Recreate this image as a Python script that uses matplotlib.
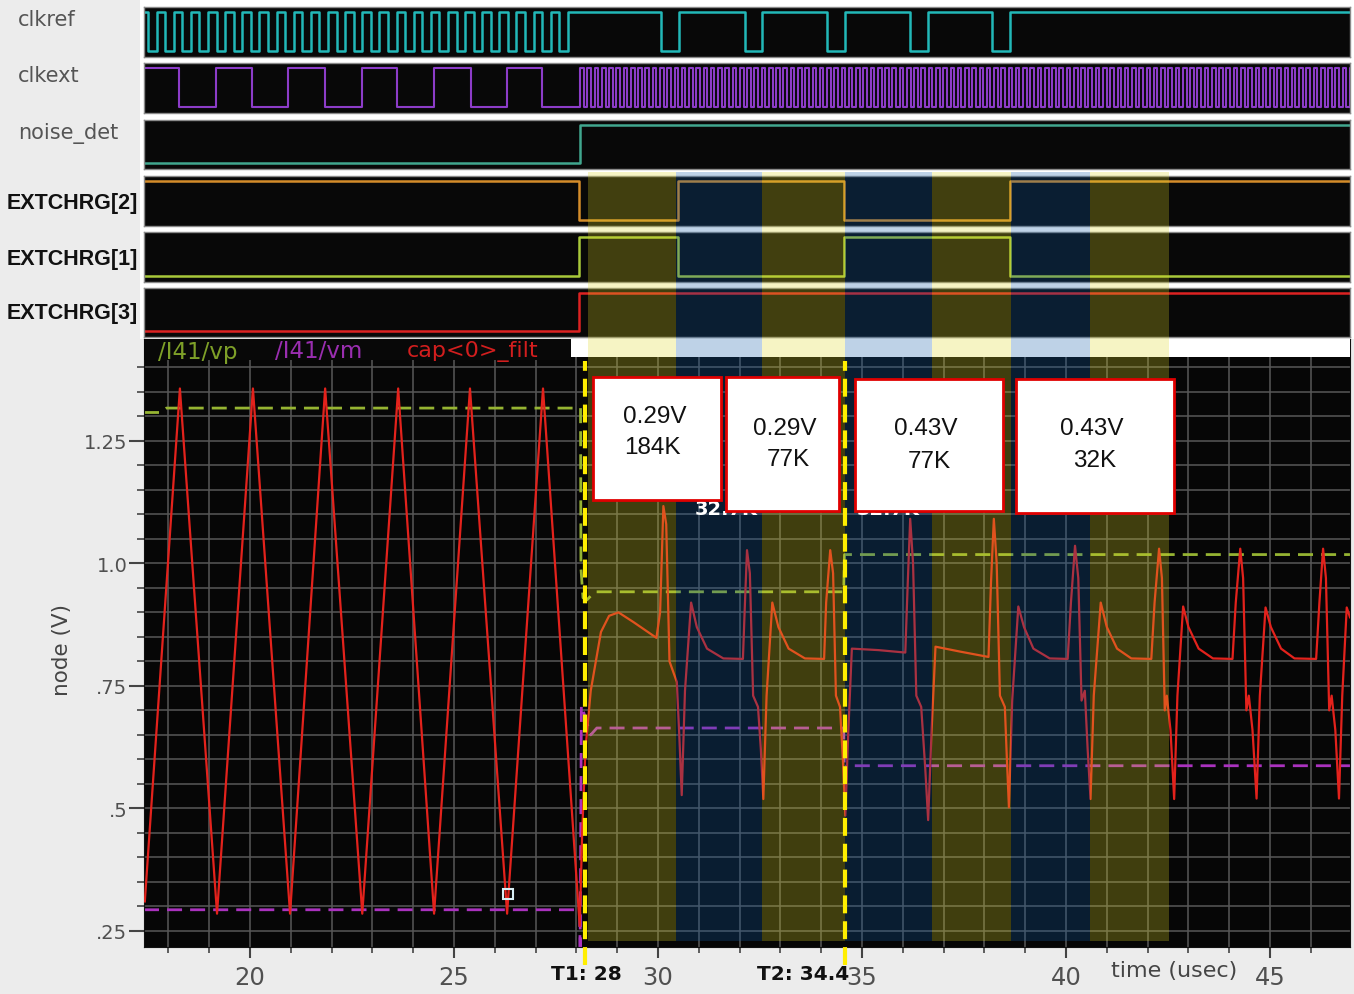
import matplotlib
matplotlib.use('Agg')
import matplotlib.pyplot as plt
import matplotlib.transforms as mtransforms
import numpy as np
from matplotlib.patches import Rectangle
from matplotlib.lines import Line2D
from matplotlib import font_manager

W, H = 1354, 995
T_START, T_END = 17.40, 46.96

# ---------------- digital traces (time in usec) ----------------
# clkref: fast clock until the switch, then slow clock with short low pulses
clkref_fast_start = 17.50
clkref_fast_period = 0.42
clkref_fast_count = 25
clkref_low_start = [30.07, 32.13, 34.14, 36.18, 38.19]
clkref_low_end = [30.52, 32.55, 34.58, 36.62, 38.63]

# clkext: slow square wave, then a dense clock after the switch
clkext_high_start = [17.40, 19.17, 20.93, 22.75, 24.51, 26.30]
clkext_high_end = [18.26, 20.05, 21.84, 23.60, 25.42, 27.16]
clkext_fast_start = 28.09
clkext_fast_period = 0.178

noise_det_edges = [28.09]
extchrg2_edges = [28.07, 30.49, 34.56, 38.63]
extchrg1_edges = [28.07, 30.49, 34.56, 38.63]
extchrg3_edges = [28.07]

# ---------------- analog traces (volts) ----------------
cap_t = [17.42, 18.28, 19.19, 20.07, 20.98, 21.84, 22.75, 23.63, 24.51, 25.39,
         26.30, 27.18, 28.08,
         28.14, 28.22, 28.35, 28.60, 28.80, 29.03, 29.40, 29.96, 30.05, 30.13,
         30.20, 30.28, 30.46, 30.52, 30.58, 30.66, 30.81, 30.95, 31.20, 31.60,
         32.08, 32.13, 32.18, 32.25, 32.33, 32.45, 32.52, 32.58, 32.66, 32.80,
         32.95, 33.20, 33.60, 34.07, 34.12, 34.22, 34.29, 34.36, 34.46, 34.53,
         34.59, 34.66, 34.75, 35.40, 36.06, 36.12, 36.18, 36.25, 36.33, 36.45,
         36.55, 36.62, 36.70, 36.80, 37.40, 38.10, 38.16, 38.23, 38.30, 38.38,
         38.50, 38.55, 38.60, 38.68, 38.83, 38.97, 39.20, 39.60, 40.04, 40.12,
         40.22, 40.30, 40.38, 40.46, 40.53, 40.60, 40.68, 40.85, 41.00, 41.25,
         41.60, 42.09, 42.17, 42.28, 42.35, 42.42, 42.47, 42.56, 42.65, 42.73,
         42.87, 43.00, 43.25, 43.60, 44.08, 44.16, 44.27, 44.34, 44.42, 44.48,
         44.57, 44.67, 44.75, 44.89, 45.02, 45.27, 45.60, 46.13, 46.21, 46.30,
         46.37, 46.45, 46.51, 46.60, 46.69, 46.77, 46.88, 46.96]
cap_v = [0.31, 1.357, 0.285, 1.357, 0.285, 1.357, 0.285, 1.357, 0.285, 1.357,
         0.285, 1.357, 0.26,
         0.45, 0.62, 0.74, 0.86, 0.893, 0.90, 0.88, 0.848, 0.90, 1.117,
         1.08, 0.80, 0.758, 0.65, 0.527, 0.74, 0.92, 0.87, 0.826, 0.806,
         0.805, 0.92, 1.027, 0.98, 0.73, 0.707, 0.62, 0.519, 0.73, 0.92,
         0.87, 0.826, 0.806, 0.805, 0.92, 1.027, 0.98, 0.73, 0.707, 0.60,
         0.485, 0.65, 0.826, 0.823, 0.818, 0.96, 1.091, 1.00, 0.73, 0.707,
         0.58, 0.476, 0.65, 0.83, 0.82, 0.809, 0.96, 1.091, 1.00, 0.73,
         0.707, 0.60, 0.502, 0.72, 0.912, 0.87, 0.826, 0.806, 0.805, 0.92,
         1.036, 0.97, 0.72, 0.74, 0.62, 0.519, 0.73, 0.92, 0.87, 0.826,
         0.806, 0.805, 0.92, 1.03, 0.97, 0.70, 0.73, 0.66, 0.519, 0.73,
         0.912, 0.87, 0.826, 0.806, 0.805, 0.92, 1.03, 0.97, 0.70, 0.73,
         0.66, 0.52, 0.73, 0.91, 0.87, 0.826, 0.806, 0.805, 0.92, 1.03,
         0.97, 0.70, 0.73, 0.66, 0.52, 0.73, 0.91, 0.89]

vp_t = [17.40, 17.80, 17.95, 28.10, 28.11, 28.16, 28.25, 28.45, 34.55, 34.57, 46.96]
vp_v = [1.308, 1.308, 1.317, 1.317, 0.99, 0.93, 0.925, 0.942, 0.942, 1.018, 1.018]

vm_t = [17.40, 28.08, 28.09, 28.12, 28.20, 28.35, 28.50, 34.55, 34.58, 34.62, 46.96]
vm_v = [0.293, 0.293, 0.20, 0.71, 0.69, 0.65, 0.664, 0.664, 0.52, 0.587, 0.587]

# highlighted EXTCHRG phases
yellow_start = [28.28, 32.55, 36.72, 40.59]
yellow_end = [30.44, 34.58, 38.65, 42.52]
blue_start = [30.44, 34.58, 38.65]
blue_end = [32.55, 36.72, 40.59]

cursor_t = [28.21, 34.58]
cursor_labels = ['T1: 28', 'T2: 34.4']

box_lines = [('0.29V', '184K'), ('0.29V', '77K'), ('0.43V', '77K'), ('0.43V', '32K')]


def edges_to_step(edges, level):
    t, v = [T_START], [level]
    for e in edges:
        t += [e, e]
        v += [level, 1 - level]
        level = 1 - level
    t.append(T_END)
    v.append(level)
    return t, v


def rect_px(x0, y0, x1, y1):
    return [x0 / W, 1 - y1 / H, (x1 - x0) / W, (y1 - y0) / H]


def fy(y):
    return 1 - y / H


fig = plt.figure(figsize=(W / 100, H / 100), dpi=100, facecolor='#ececec')
fig.add_artist(Rectangle((140 / W, fy(340)), (W - 140) / W, 340 / H, transform=fig.transFigure,
                         facecolor='white', edgecolor='none', zorder=-10))

# clock edge lists
clkref_edges = []
for k in range(clkref_fast_count):
    s = clkref_fast_start + k * clkref_fast_period
    clkref_edges += [s, s + clkref_fast_period / 2]
for a, b in zip(clkref_low_start, clkref_low_end):
    clkref_edges += [a, b]

clkext_edges = [clkext_high_end[0]]
for a, b in zip(clkext_high_start[1:], clkext_high_end[1:]):
    clkext_edges += [a, b]
s = clkext_fast_start
while s < T_END:
    clkext_edges += [s, s + clkext_fast_period / 2]
    s += clkext_fast_period

names = {f.name for f in font_manager.fontManager.ttflist}
if 'Liberation Sans Narrow' in names:
    ext_font = dict(family='Liberation Sans Narrow', fontsize=19, weight='bold')
else:
    ext_font = dict(family='Liberation Sans', fontsize=15.5, weight='bold')

rows = [
    ('clkref', 8, 58, clkref_edges, 1, '#22b8b8', 20),
    ('clkext', 64, 114, clkext_edges, 1, '#8c3cc8', 76),
    ('noise_det', 121, 170, noise_det_edges, 0, '#40a68e', 133),
    ('EXTCHRG[2]', 177, 227, extchrg2_edges, 1, '#d48c2a', 203),
    ('EXTCHRG[1]', 233, 283, extchrg1_edges, 0, '#a8c83a', 259),
    ('EXTCHRG[3]', 289, 338, extchrg3_edges, 0, '#dc2222', 314),
]
for name, y0, y1, edges, lvl, color, ylab in rows:
    ax = fig.add_axes(rect_px(144, y0, 1350, y1))
    ax.set_facecolor('#080808')
    t, v = edges_to_step(edges, lvl)
    ax.plot(t, v, color=color, lw=1.8 if name != 'clkext' else 1.5)
    ax.set_xlim(T_START, T_END)
    ax.set_ylim(-0.15, 1.13)
    ax.set_xticks([])
    ax.set_yticks([])
    for sp in ax.spines.values():
        sp.set_color('#8a8a8a')
        sp.set_linewidth(1)
    if name.startswith('EXTCHRG'):
        fig.text(7 / W, fy(ylab), name, color='#111111', va='center', ha='left', **ext_font)
    else:
        fig.text(18 / W, fy(ylab), name, fontsize=15, color='#555555', va='center', ha='left')

# ---------------- analog panel ----------------
ax = fig.add_axes(rect_px(144, 340, 1350, 948))
ax.set_facecolor('#060606')
ax.set_xlim(T_START, T_END)
ax.set_ylim(0.217, 1.458)
ax.plot(vp_t, vp_v, color='#96b432', lw=2, dashes=(5.4, 2.9), zorder=2)
ax.plot(vm_t, vm_v, color='#aa32be', lw=2, dashes=(5.4, 2.9), zorder=2)
ax.plot(cap_t, cap_v, color='#e3221c', lw=1.6, zorder=3)
ax.plot([26.32], [0.325], marker='s', ms=7, mfc='none', mec='#d8eef5', mew=1.5, zorder=4)

ax.set_yticks([0.25, 0.5, 0.75, 1.0, 1.25])
ax.set_yticklabels(['.25', '.5', '.75', '1.0', '1.25'])
ax.set_yticks(np.arange(0.25, 1.401, 0.05), minor=True)
ax.set_xticks([20, 25, 30, 35, 40, 45])
ax.set_xticks(np.arange(18, 47, 1), minor=True)
ax.grid(True, which='both', color='#575757', lw=1.1)
ax.tick_params(axis='y', which='major', length=11, width=1.5, color='#444444',
               labelsize=14, labelcolor='#505050', pad=1)
ax.tick_params(axis='y', which='minor', length=5, width=1.2, color='#444444')
ax.tick_params(axis='x', which='major', length=8, width=1.5, color='#444444',
               labelsize=17.5, labelcolor='#505050', pad=5)
ax.tick_params(axis='x', which='minor', length=4, width=1.2, color='#444444')
for sp in ax.spines.values():
    sp.set_color('#111111')

# legend strip on top of the analog panel
ax.add_patch(Rectangle((144 / W, fy(361)), (571 - 144) / W, 21 / H, transform=fig.transFigure,
                       facecolor='#080808', edgecolor='none', zorder=4, clip_on=False))
ax.add_patch(Rectangle((571 / W, fy(358)), (1350 - 571) / W, 18 / H, transform=fig.transFigure,
                       facecolor='white', edgecolor='none', zorder=4, clip_on=False))
fig.text(158 / W, fy(352), '/I41/vp', color='#7ea028', fontsize=16.5, va='center', zorder=6)
fig.text(275 / W, fy(352), '/I41/vm', color='#9a2eb0', fontsize=16.5, va='center', zorder=6)
fig.text(407 / W, fy(352), 'cap<0>_filt', color='#d21e1e', fontsize=16, va='center', zorder=6)

fig.text(62 / W, fy(650), 'node (V)', rotation=90, fontsize=15.5, color='#454545',
         ha='center', va='center')
fig.text(1174 / W, fy(971), 'time (usec)', fontsize=16, color='#454545', ha='center', va='center')

# phase shading across the EXTCHRG rows and the analog panel
blend = mtransforms.blended_transform_factory(ax.transData, fig.transFigure)
for a, b in zip(yellow_start, yellow_end):
    fig.add_artist(Rectangle((a, fy(942)), b - a, (942 - 173) / H, transform=blend,
                             facecolor='#ded725', alpha=0.27, edgecolor='none', zorder=5))
for a, b in zip(blue_start, blue_end):
    fig.add_artist(Rectangle((a, fy(942)), b - a, (942 - 173) / H, transform=blend,
                             facecolor='#125ca7', alpha=0.27, edgecolor='none', zorder=5))

# cursors
for tc in cursor_t:
    fig.add_artist(Line2D([tc, tc], [fy(966), fy(362)], transform=blend, color='#ffee00',
                          lw=3, dashes=(4.3, 1.9), zorder=6))
fig.text(586 / W, fy(975), cursor_labels[0], fontsize=14.5, weight='bold', color='#111111',
         ha='center', va='center', zorder=7)
fig.text(803 / W, fy(975), cursor_labels[1], fontsize=14.5, weight='bold', color='#111111',
         ha='center', va='center', zorder=7)

# partly hidden labels under the boxes
for x in [695, 857]:
    fig.text(x / W, fy(515), '32.7K', fontsize=14, weight='bold', color='white',
             ha='left', va='baseline', zorder=8)

# annotation boxes
boxes = [(593, 378, 721, 501), (726, 378, 839, 512), (855, 380, 1003, 512), (1016, 380, 1174, 514)]
text_pos = [((655, 417), (652, 448)), ((785, 429), (788, 460)),
            ((926, 429), (929, 462)), ((1092, 429), (1095, 461))]
for (x0, y0, x1, y1), (l1, l2), (p1, p2) in zip(boxes, box_lines, text_pos):
    fig.add_artist(Rectangle((x0 / W, fy(y1)), (x1 - x0) / W, (y1 - y0) / H,
                             transform=fig.transFigure, facecolor='white',
                             edgecolor='#e00000', lw=2, zorder=20))
    fig.text(p1[0] / W, fy(p1[1]), l1, family='Liberation Sans', fontsize=17.5,
             color='#111111', ha='center', va='center', zorder=21)
    fig.text(p2[0] / W, fy(p2[1]), l2, family='Liberation Sans', fontsize=17.5,
             color='#111111', ha='center', va='center', zorder=21)

fig.savefig('out.png', dpi=100, facecolor=fig.get_facecolor())
